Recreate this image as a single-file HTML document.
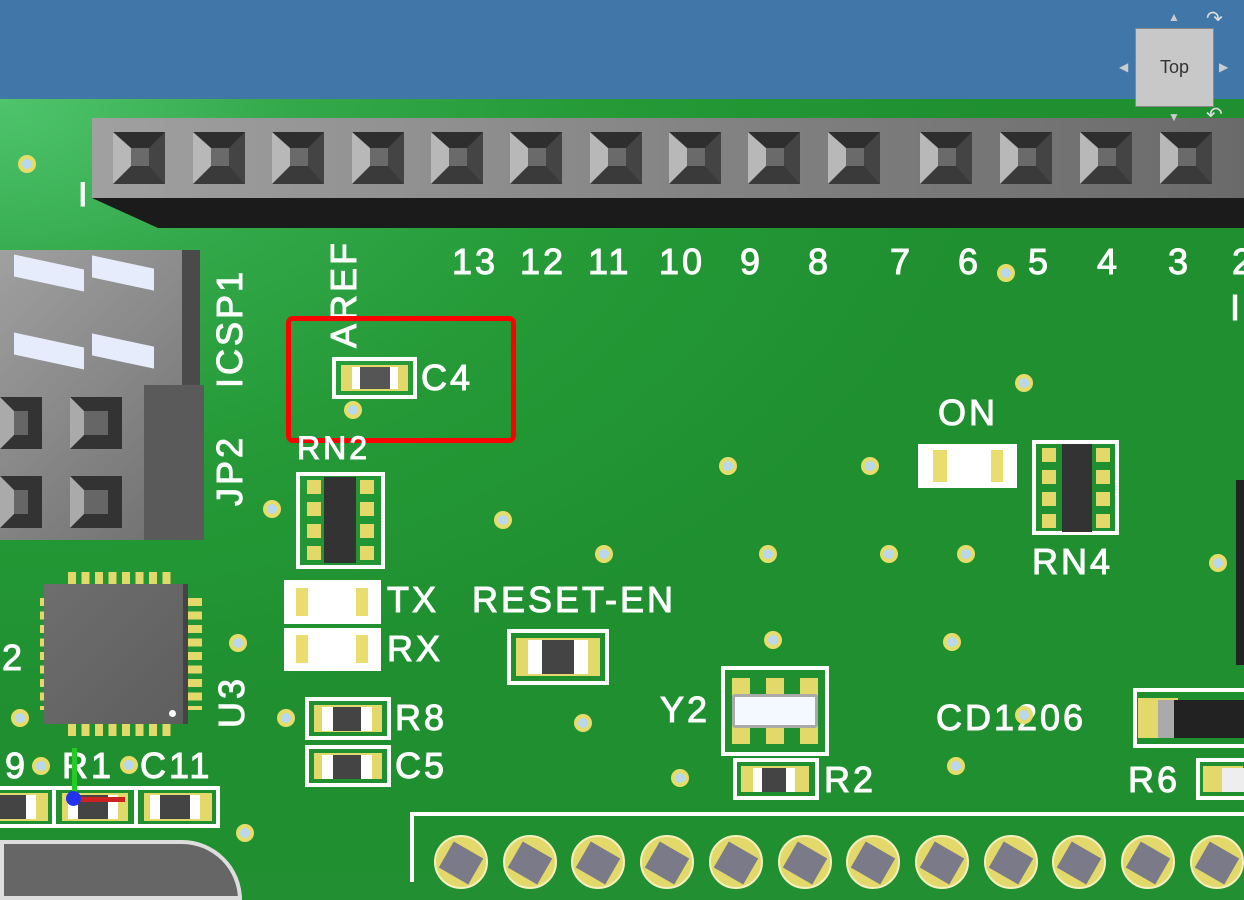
<!DOCTYPE html>
<html><head><meta charset="utf-8"><style>
*{margin:0;padding:0;box-sizing:border-box}
body{width:1244px;height:873px;overflow:hidden;position:relative;font-family:"Liberation Sans",sans-serif;background:#228f33}
.a{position:absolute}
.t{position:absolute;color:#fff;font-size:36px;line-height:1;letter-spacing:3px;white-space:nowrap;-webkit-text-stroke:1px #fff}
.via{position:absolute;width:18px;height:18px;border-radius:50%;background:#b8d8f0;border:4px solid #e6dc6a}
.ol{position:absolute;border:4px solid #fff}
.pad{position:absolute;background:#e3d96a}
.pin{position:absolute;width:52px;height:52px;top:132px;border-style:solid;border-width:16px 16px 18px 18px;border-color:#2e2e2e #444 #3a3a3a #b8b8b8;background:#6a6a6a}
</style></head><body>
<div class="a" style="left:0;top:0;width:1244px;height:100px;background:#4177a8"></div>
<div class="a" style="left:0;top:99px;width:1244px;height:774px;background:radial-gradient(ellipse at 0 0,#4fc46c 0,#33a84a 300px,#259a37 600px,#1f8f30 1000px)"></div>
<!-- header -->
<div class="a" style="left:92px;top:118px;width:1152px;height:80px;background:linear-gradient(90deg,#a0a0a0,#6a6a6a)"></div>
<div class="a" style="left:92px;top:198px;width:1152px;height:30px;background:#1b1b1b;clip-path:polygon(0 0,100% 0,100% 100%,66px 100%)"></div>
<div id="pins"></div>
<div class="t" style="left:78px;top:178px;font-size:34px">I</div>
<!-- ICSP block -->
<div class="a" style="left:0;top:250px;width:200px;height:290px;background:linear-gradient(135deg,#a0a0a0,#6e6e6e)"></div>
<div class="a" style="left:182px;top:250px;width:18px;height:135px;background:#4a4a4a"></div>
<div class="a" style="left:144px;top:385px;width:60px;height:155px;background:#5a5a5a"></div>
<div class="a" style="left:14px;top:262px;width:70px;height:22px;background:#e6ecfb;transform:skewY(12deg)"></div>
<div class="a" style="left:92px;top:262px;width:62px;height:22px;background:#e6ecfb;transform:skewY(12deg)"></div>
<div class="a" style="left:14px;top:340px;width:70px;height:22px;background:#e6ecfb;transform:skewY(12deg)"></div>
<div class="a" style="left:92px;top:340px;width:62px;height:22px;background:#e6ecfb;transform:skewY(12deg)"></div>
<div class="a" style="left:0;top:397px;width:42px;height:52px;border:14px solid #333;border-left-color:#aaa;background:#666"></div>
<div class="a" style="left:70px;top:397px;width:52px;height:52px;border:14px solid #333;border-left-color:#aaa;background:#666"></div>
<div class="a" style="left:0;top:476px;width:42px;height:52px;border:14px solid #333;border-left-color:#aaa;background:#666"></div>
<div class="a" style="left:70px;top:476px;width:52px;height:52px;border:14px solid #333;border-left-color:#aaa;background:#666"></div>
<!-- numbers -->
<div class="t" style="left:452px;top:244px">13</div><div class="t" style="left:520px;top:244px">12</div>
<div class="t" style="left:588px;top:244px">11</div><div class="t" style="left:659px;top:244px">10</div>
<div class="t" style="left:740px;top:244px">9</div><div class="t" style="left:808px;top:244px">8</div>
<div class="t" style="left:890px;top:244px">7</div><div class="t" style="left:958px;top:244px">6</div>
<div class="t" style="left:1028px;top:244px">5</div><div class="t" style="left:1097px;top:244px">4</div>
<div class="t" style="left:1168px;top:244px">3</div><div class="t" style="left:1232px;top:244px">2</div>
<div class="t" style="left:1230px;top:290px">I</div>
<div class="t" style="left:326px;top:348px;transform:rotate(-90deg);transform-origin:0 0">AREF</div>
<div class="t" style="left:212px;top:388px;transform:rotate(-90deg);transform-origin:0 0">ICSP1</div>
<div class="t" style="left:212px;top:506px;transform:rotate(-90deg);transform-origin:0 0">JP2</div>
<div class="t" style="left:214px;top:728px;transform:rotate(-90deg);transform-origin:0 0">U3</div>
<!-- C4 -->
<div class="ol" style="left:332px;top:357px;width:85px;height:42px"></div>
<div class="pad" style="left:341px;top:365px;width:67px;height:26px"></div>
<div class="a" style="left:352px;top:367px;width:46px;height:22px;background:#555;border-left:8px solid #fff;border-right:8px solid #fff"></div>
<div class="t" style="left:421px;top:360px">C4</div>
<div class="a" style="left:286px;top:316px;width:230px;height:127px;border:5px solid #f00;border-radius:7px"></div>
<!-- RN2 -->
<div class="t" style="left:297px;top:432px;font-size:32px">RN2</div>
<div class="ol" style="left:296px;top:472px;width:89px;height:97px"></div>
<div class="pad" style="left:307px;top:480px;width:14px;height:80px;background:repeating-linear-gradient(#e3d96a 0 14px,transparent 14px 22px)"></div>
<div class="pad" style="left:360px;top:480px;width:14px;height:80px;background:repeating-linear-gradient(#e3d96a 0 14px,transparent 14px 22px)"></div>
<div class="a" style="left:324px;top:477px;width:32px;height:86px;background:#333"></div>
<!-- TX RX -->
<div class="ol" style="left:284px;top:580px;width:97px;height:44px;background:#fff"></div>
<div class="a" style="left:296px;top:588px;width:72px;height:28px;background:#fff;border-left:12px solid #e9dd70;border-right:12px solid #e9dd70"></div>
<div class="ol" style="left:284px;top:628px;width:97px;height:43px;background:#fff"></div>
<div class="a" style="left:296px;top:635px;width:72px;height:28px;background:#fff;border-left:12px solid #e9dd70;border-right:12px solid #e9dd70"></div>
<div class="t" style="left:387px;top:582px">TX</div><div class="t" style="left:387px;top:631px">RX</div>
<div class="t" style="left:472px;top:582px">RESET-EN</div>
<div class="ol" style="left:507px;top:629px;width:102px;height:56px"></div>
<div class="pad" style="left:516px;top:638px;width:84px;height:38px"></div>
<div class="a" style="left:528px;top:640px;width:60px;height:34px;background:#444;border-left:14px solid #fff;border-right:14px solid #fff"></div>
<!-- ON -->
<div class="t" style="left:938px;top:395px">ON</div>
<div class="ol" style="left:918px;top:444px;width:99px;height:44px;background:#fff"></div>
<div class="a" style="left:933px;top:450px;width:70px;height:32px;background:#fff;border-left:14px solid #e9dd70;border-right:12px solid #e9dd70"></div>
<!-- RN4 -->
<div class="ol" style="left:1032px;top:440px;width:87px;height:95px"></div>
<div class="pad" style="left:1042px;top:448px;width:14px;height:80px;background:repeating-linear-gradient(#e3d96a 0 14px,transparent 14px 22px)"></div>
<div class="pad" style="left:1096px;top:448px;width:14px;height:80px;background:repeating-linear-gradient(#e3d96a 0 14px,transparent 14px 22px)"></div>
<div class="a" style="left:1062px;top:444px;width:30px;height:88px;background:#333"></div>
<div class="t" style="left:1032px;top:544px">RN4</div>
<div class="a" style="left:1236px;top:480px;width:8px;height:185px;background:#222"></div>
<!-- U3 chip -->
<div class="pad" style="left:68px;top:572px;width:108px;height:164px;background:repeating-linear-gradient(90deg,#e3d96a 0 8px,transparent 8px 13.5px)"></div>
<div class="pad" style="left:40px;top:598px;width:162px;height:112px;background:repeating-linear-gradient(#e3d96a 0 8px,transparent 8px 13.5px)"></div>
<div class="a" style="left:44px;top:584px;width:144px;height:140px;background:linear-gradient(135deg,#6e6e6e,#5e5e5e);border-right:5px solid #444"></div>
<div class="a" style="left:169px;top:710px;width:7px;height:7px;border-radius:50%;background:#fff"></div>
<div class="t" style="left:2px;top:640px">2</div>
<!-- R8 C5 -->
<div class="ol" style="left:305px;top:697px;width:86px;height:43px"></div>
<div class="pad" style="left:314px;top:705px;width:68px;height:27px"></div>
<div class="a" style="left:322px;top:707px;width:50px;height:24px;background:#444;border-left:11px solid #fff;border-right:11px solid #fff"></div>
<div class="ol" style="left:305px;top:745px;width:86px;height:42px"></div>
<div class="pad" style="left:314px;top:753px;width:68px;height:26px"></div>
<div class="a" style="left:322px;top:755px;width:50px;height:24px;background:#444;border-left:11px solid #fff;border-right:11px solid #fff"></div>
<div class="t" style="left:395px;top:700px">R8</div><div class="t" style="left:395px;top:748px">C5</div>
<!-- Y2 -->
<div class="t" style="left:660px;top:692px">Y2</div>
<div class="ol" style="left:721px;top:666px;width:108px;height:90px"></div>
<div class="pad" style="left:732px;top:678px;width:86px;height:66px;background:repeating-linear-gradient(90deg,#e3d96a 0 18px,transparent 18px 34px)"></div>
<div class="a" style="left:732px;top:694px;width:86px;height:34px;background:#f4f8ff;border:3px solid #aaa;border-radius:3px"></div>
<div class="ol" style="left:733px;top:758px;width:86px;height:42px"></div>
<div class="pad" style="left:741px;top:766px;width:68px;height:26px"></div>
<div class="a" style="left:753px;top:768px;width:42px;height:24px;background:#444;border-left:9px solid #fff;border-right:9px solid #fff"></div>
<div class="t" style="left:824px;top:762px">R2</div>
<div class="t" style="left:936px;top:700px">CD1206</div>
<div class="ol" style="left:1133px;top:688px;width:120px;height:60px"></div>
<div class="pad" style="left:1138px;top:698px;width:40px;height:40px"></div>
<div class="a" style="left:1158px;top:700px;width:90px;height:38px;background:#222;border-left:16px solid #aaa"></div>
<div class="t" style="left:1128px;top:762px">R6</div>
<div class="ol" style="left:1196px;top:758px;width:60px;height:42px"></div>
<div class="pad" style="left:1203px;top:766px;width:40px;height:26px"></div>
<div class="a" style="left:1222px;top:768px;width:22px;height:24px;background:#eee"></div>
<!-- bottom left -->
<div class="t" style="left:5px;top:748px">9</div><div class="t" style="left:62px;top:748px">R1</div><div class="t" style="left:140px;top:748px">C11</div>
<div class="ol" style="left:-4px;top:786px;width:224px;height:42px"></div>
<div class="a" style="left:52px;top:786px;width:4px;height:42px;background:#fff"></div>
<div class="a" style="left:134px;top:786px;width:4px;height:42px;background:#fff"></div>
<div class="pad" style="left:0;top:793px;width:48px;height:28px"></div>
<div class="a" style="left:0;top:795px;width:36px;height:24px;background:#444;border-right:10px solid #fff"></div>
<div class="pad" style="left:62px;top:793px;width:66px;height:28px"></div>
<div class="a" style="left:68px;top:795px;width:50px;height:24px;background:#444;border-left:10px solid #fff;border-right:10px solid #fff"></div>
<div class="pad" style="left:144px;top:793px;width:68px;height:28px"></div>
<div class="a" style="left:150px;top:795px;width:50px;height:24px;background:#444;border-left:10px solid #fff;border-right:10px solid #fff"></div>
<div class="a" style="left:72px;top:748px;width:5px;height:50px;background:#2c2"></div>
<div class="a" style="left:75px;top:797px;width:50px;height:5px;background:#c22"></div>
<div class="a" style="left:66px;top:791px;width:15px;height:15px;border-radius:50%;background:#23e"></div>
<div class="a" style="left:0;top:840px;width:242px;height:60px;background:#666;border:4px solid #ddd;border-radius:0 60px 0 0"></div>
<!-- bottom connector -->
<div class="a" style="left:410px;top:812px;width:840px;height:70px;border:4px solid #fff;border-right:none;border-bottom:none"></div>
<div id="bp"></div>
<div id="vias"></div>
<!-- nav cube -->
<div class="a" style="left:1135px;top:28px;width:79px;height:79px;background:#c8c8c8;border:1px solid #888;font-size:18px;color:#333;text-align:center;line-height:77px">Top</div>
<div class="a" style="left:1168px;top:10px;font-size:12px;color:#ccc">▲</div>
<div class="a" style="left:1168px;top:110px;font-size:12px;color:#ccc">▼</div>
<div class="a" style="left:1119px;top:60px;font-size:12px;color:#ccc">◀</div>
<div class="a" style="left:1219px;top:60px;font-size:12px;color:#ccc">▶</div>
<div class="a" style="left:1206px;top:6px;font-size:20px;color:#ddd">↷</div>
<div class="a" style="left:1206px;top:102px;font-size:20px;color:#ddd">↶</div>
<script>
var h='';[113,193,272,352,431,510,590,669,748,828,920,1000,1080,1160].forEach(function(x){h+='<div class="pin" style="left:'+x+'px"></div>'});
document.getElementById('pins').innerHTML=h;
h='';for(var i=0;i<12;i++){var x=434+i*68.7;h+='<div class="a" style="left:'+x+'px;top:835px;width:54px;height:54px;border-radius:50%;background:#e3d96a;border:2px solid #f4f0c0"></div><div class="a" style="left:'+(x+10)+'px;top:848px;width:34px;height:30px;background:#7a7a88;transform:rotate(30deg)"></div>'}
document.getElementById('bp').innerHTML=h;
h='';[[27,164],[353,410],[1024,383],[728,466],[870,466],[503,520],[272,509],[604,554],[768,554],[889,554],[966,554],[1218,563],[238,643],[773,640],[952,642],[20,718],[1024,715],[583,723],[286,718],[41,766],[129,765],[245,833],[680,778],[956,766],[1006,273]].forEach(function(p){h+='<div class="via" style="left:'+(p[0]-9)+'px;top:'+(p[1]-9)+'px"></div>'});
document.getElementById('vias').innerHTML=h;
</script>
</body></html>
